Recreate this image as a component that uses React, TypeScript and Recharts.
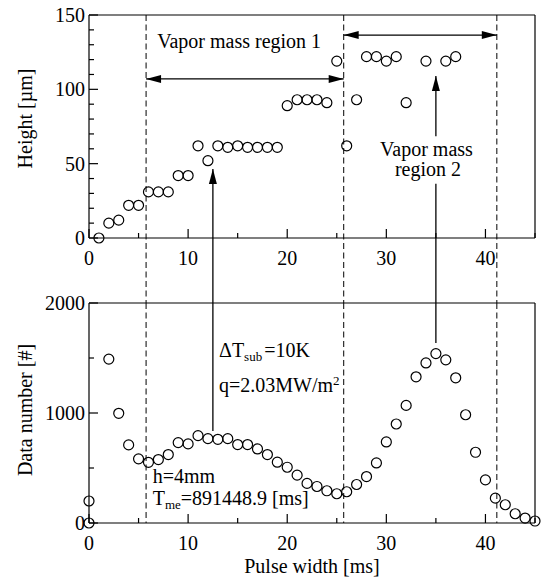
import React from "react";
import { ScatterChart, Scatter, XAxis, YAxis, ReferenceLine, ReferenceDot } from "recharts";

// upper panel: bubble height vs pulse width
const heightPulse = [1, 2, 3, 4, 5, 6, 7, 8, 9, 10, 11, 12, 13, 14, 15, 16, 17, 18, 19, 20, 21, 22, 23, 24, 25, 26, 27, 28, 29, 30, 31, 32, 34, 36, 37];
const heightUm = [0, 10, 12, 22, 22, 31, 31, 31, 42, 42, 62, 52, 62, 61, 62, 61, 61, 61, 61, 89, 93, 93, 93, 91, 119, 62, 93, 122, 122, 119, 122, 91, 119, 119, 122];

// lower panel: data count vs pulse width
const countPulse = [0, 0, 2, 3, 4, 5, 6, 7, 8, 9, 10, 11, 12, 13, 14, 15, 16, 17, 18, 19, 20, 21, 22, 23, 24, 25, 26, 27, 28, 29, 30, 31, 32, 33, 34, 35, 36, 37, 38, 39, 40, 41, 42, 43, 44, 45];
const countNumber = [0, 200, 1490, 997, 710, 583, 552, 577, 622, 731, 719, 794, 767, 761, 767, 713, 713, 673, 622, 553, 507, 435, 360, 332, 293, 266, 284, 350, 422, 546, 737, 900, 1069, 1329, 1455, 1540, 1483, 1320, 984, 643, 392, 226, 166, 84, 45, 18];

const pulseTicks = [0, 5, 10, 15, 20, 25, 30, 35, 40, 45];
const heightTicks = [0, 10, 20, 30, 40, 50, 60, 70, 80, 90, 100, 110, 120, 130, 140, 150];
const countTicks = [0, 500, 1000, 1500, 2000];

// region borders (pulse width, ms)
const regionBounds = [5.76, 25.7, 41.15];

const heightData = heightPulse.map((x, i) => ({ x, y: heightUm[i] }));
const countData = countPulse.map((x, i) => ({ x, y: countNumber[i] }));

const FONT = '"Liberation Serif", "Times New Roman", Times, serif';
const FS = 20;

type Side = "bottom" | "top" | "left" | "right";

function axisTick(side: Side, major: number, labels: boolean) {
  return (props: any) => {
    const { x, y, payload } = props;
    const v = payload.value;
    const isMajor = Math.abs(v / major - Math.round(v / major)) < 1e-9;
    const len = isMajor ? 9 : 5;
    const l = { x1: x, y1: y, x2: x, y2: y };
    if (side === "bottom") l.y2 = y - len;
    if (side === "top") l.y2 = y + len;
    if (side === "left") l.x2 = x + len;
    if (side === "right") l.x2 = x - len;
    let label = null;
    if (labels && isMajor) {
      if (side === "bottom")
        label = (
          <text x={x} y={y + 27} textAnchor="middle" fontFamily={FONT} fontSize={FS} fill="#000">
            {v}
          </text>
        );
      if (side === "left")
        label = (
          <text x={x - 4} y={y + 7} textAnchor="end" fontFamily={FONT} fontSize={FS} fill="#000">
            {v}
          </text>
        );
    }
    return (
      <g>
        <line {...l} stroke="#000" strokeWidth={1.2} />
        {label}
      </g>
    );
  };
}

const circle = (p: any) => <circle cx={p.cx} cy={p.cy} r={5} fill="none" stroke="#000" strokeWidth={1.2} />;

function head(tx: number, ty: number, fx: number, fy: number) {
  const dx = tx - fx;
  const dy = ty - fy;
  const d = Math.hypot(dx, dy) || 1;
  const ux = dx / d;
  const uy = dy / d;
  const bx = tx - ux * 15;
  const by = ty - uy * 15;
  const px = -uy * 4;
  const py = ux * 4;
  return <polygon points={`${tx},${ty} ${bx + px},${by + py} ${bx - px},${by - py}`} fill="#000" />;
}

const doubleArrow = (p: any) => (
  <g>
    <line x1={p.x1} y1={p.y1} x2={p.x2} y2={p.y2} stroke="#000" strokeWidth={1.3} />
    {head(p.x1, p.y1, p.x2, p.y2)}
    {head(p.x2, p.y2, p.x1, p.y1)}
  </g>
);

const singleArrow = (p: any) => (
  <g>
    <line x1={p.x1} y1={p.y1} x2={p.x2} y2={p.y2} stroke="#000" strokeWidth={1.3} />
    {head(p.x1, p.y1, p.x2, p.y2)}
  </g>
);

const plainLine = (p: any) => <line x1={p.x1} y1={p.y1} x2={p.x2} y2={p.y2} stroke="#000" strokeWidth={1.3} />;

const txt = (content: React.ReactNode, anchor: "start" | "middle" = "start") => (p: any) => (
  <text x={p.cx} y={p.cy} textAnchor={anchor} fontFamily={FONT} fontSize={FS} fill="#000">
    {content}
  </text>
);

const twoLines = (a: string, b: string, shift: number) => (p: any) => (
  <text x={p.cx} y={p.cy} textAnchor="middle" fontFamily={FONT} fontSize={FS} fill="#000">
    <tspan x={p.cx}>{a}</tspan>
    <tspan x={p.cx + shift} dy={20.5}>
      {b}
    </tspan>
  </text>
);

const yTitle = (title: string, shift: number) => (p: any) => {
  const vb = p.viewBox ?? { x: 88, y: 15, width: 1, height: 223 };
  const cx = vb.x + vb.width - 57;
  const cy = vb.y + vb.height / 2 + shift;
  return (
    <text x={cx} y={cy} transform={`rotate(-90 ${cx} ${cy})`} textAnchor="middle" fontFamily={FONT} fontSize={FS} fill="#000">
      {title}
    </text>
  );
};

const xTitle = (p: any) => {
  const vb = p.viewBox ?? { x: 89, y: 523, width: 446, height: 1 };
  return (
    <text x={vb.x + vb.width / 2} y={vb.y + 50} textAnchor="middle" fontFamily={FONT} fontSize={FS} fill="#000">
      Pulse width [ms]
    </text>
  );
};

const axisLine = { stroke: "#000", strokeWidth: 1.2 };

export default function App() {
  return (
    <div style={{ position: "absolute", left: 0, top: 0, width: 549, height: 586, background: "#fff" }}>
      <div style={{ position: "absolute", left: 0, top: 0 }}>
        <ScatterChart width={549} height={303} margin={{ top: 14, right: 13, bottom: 64, left: 88 }}>
          <XAxis type="number" dataKey="x" domain={[0, 45]} ticks={pulseTicks} interval={0} height={1} tickSize={0} tickMargin={0} tickLine={false} axisLine={axisLine} tick={axisTick("bottom", 10, true)} />
          <XAxis xAxisId="t" orientation="top" type="number" domain={[0, 45]} ticks={pulseTicks} interval={0} height={1} tickSize={0} tickMargin={0} tickLine={false} axisLine={axisLine} tick={axisTick("top", 10, false)} />
          <YAxis type="number" dataKey="y" domain={[0, 150]} ticks={heightTicks} interval={0} width={1} tickSize={0} tickMargin={0} tickLine={false} axisLine={axisLine} tick={axisTick("left", 50, true)} label={yTitle("Height [µm]", -8)} />
          <YAxis yAxisId="r" orientation="right" type="number" domain={[0, 150]} ticks={heightTicks} interval={0} width={1} tickSize={0} tickMargin={0} tickLine={false} axisLine={axisLine} tick={axisTick("right", 50, false)} />
          {regionBounds.map((b) => (
            <ReferenceLine key={b} segment={[{ x: b, y: 150 }, { x: b, y: -44.5 }]} ifOverflow="visible" stroke="#000" strokeWidth={1} strokeDasharray="6 3.5" />
          ))}
          <ReferenceLine segment={[{ x: regionBounds[0], y: 107 }, { x: regionBounds[1], y: 107 }]} ifOverflow="visible" shape={doubleArrow} />
          <ReferenceLine segment={[{ x: regionBounds[1], y: 136.5 }, { x: regionBounds[2], y: 136.5 }]} ifOverflow="visible" shape={doubleArrow} />
          <ReferenceLine segment={[{ x: 12.5, y: 46.4 }, { x: 12.5, y: -44.5 }]} ifOverflow="visible" shape={singleArrow} />
          <ReferenceLine segment={[{ x: 35, y: 109 }, { x: 35, y: 68.5 }]} ifOverflow="visible" shape={singleArrow} />
          <ReferenceLine segment={[{ x: 35, y: 36.5 }, { x: 35, y: -44.5 }]} ifOverflow="visible" shape={plainLine} />
          <ReferenceDot x={15.15} y={128} ifOverflow="visible" shape={txt("Vapor mass region 1", "middle")} />
          <ReferenceDot x={34.05} y={55.4} ifOverflow="visible" shape={twoLines("Vapor mass", "region 2", 1.5)} />
          <Scatter data={heightData} dataKey="y" isAnimationActive={false} shape={circle} />
        </ScatterChart>
      </div>
      <div style={{ position: "absolute", left: 0, top: 290 }}>
        <ScatterChart width={549} height={296} margin={{ top: 12, right: 13, bottom: 62, left: 88 }}>
          <XAxis type="number" dataKey="x" domain={[0, 45]} ticks={pulseTicks} interval={0} height={1} tickSize={0} tickMargin={0} tickLine={false} axisLine={axisLine} tick={axisTick("bottom", 10, true)} label={xTitle} />
          <XAxis xAxisId="t" orientation="top" type="number" domain={[0, 45]} ticks={pulseTicks} interval={0} height={1} tickSize={0} tickMargin={0} tickLine={false} axisLine={axisLine} tick={axisTick("top", 10, false)} />
          <YAxis type="number" dataKey="y" domain={[0, 2000]} ticks={countTicks} interval={0} width={1} tickSize={0} tickMargin={0} tickLine={false} axisLine={axisLine} tick={axisTick("left", 1000, true)} label={yTitle("Data number [#]", -3)} />
          <YAxis yAxisId="r" orientation="right" type="number" domain={[0, 2000]} ticks={countTicks} interval={0} width={1} tickSize={0} tickMargin={0} tickLine={false} axisLine={axisLine} tick={axisTick("right", 1000, false)} />
          {regionBounds.map((b) => (
            <ReferenceLine key={b} segment={[{ x: b, y: 2000 }, { x: b, y: 0 }]} ifOverflow="visible" stroke="#000" strokeWidth={1} strokeDasharray="6 3.5" />
          ))}
          <ReferenceLine segment={[{ x: 12.5, y: 2000 }, { x: 12.5, y: 836 }]} ifOverflow="visible" shape={plainLine} />
          <ReferenceLine segment={[{ x: 35, y: 2000 }, { x: 35, y: 1636 }]} ifOverflow="visible" shape={plainLine} />
          <ReferenceDot
            x={13.12}
            y={1512}
            ifOverflow="visible"
            shape={txt(
              <>
                ΔT<tspan fontSize={13} dy={4}>sub</tspan>
                <tspan dy={-4} dx={2}>=10K</tspan>
              </>
            )}
          />
          <ReferenceDot
            x={13.12}
            y={1194}
            ifOverflow="visible"
            shape={txt(
              <>
                q=2.03MW/m<tspan fontSize={13} dy={-7}>2</tspan>
              </>
            )}
          />
          <ReferenceDot x={6.43} y={361} ifOverflow="visible" shape={txt("h=4mm")} />
          <ReferenceDot
            x={6.43}
            y={164}
            ifOverflow="visible"
            shape={txt(
              <>
                T<tspan fontSize={13} dy={4}>me</tspan>
                <tspan dy={-4}>=891448.9 [ms]</tspan>
              </>
            )}
          />
          <Scatter data={countData} dataKey="y" isAnimationActive={false} shape={circle} />
        </ScatterChart>
      </div>
    </div>
  );
}
